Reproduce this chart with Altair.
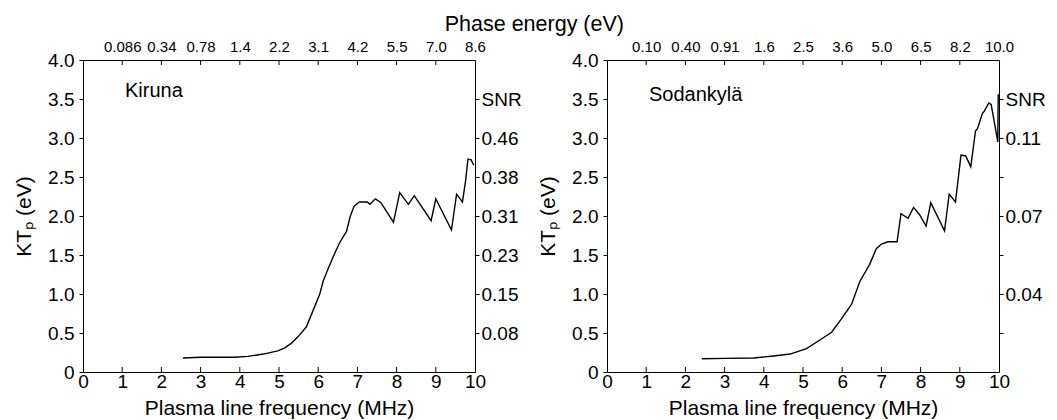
import altair as alt
import pandas as pd

# ---------------- data ----------------
kiruna_freq = [2.55, 3.0, 3.5, 3.87, 4.2, 4.6, 4.97, 5.15, 5.32, 5.5, 5.7, 5.87, 6.04, 6.13,
               6.25, 6.42, 6.55, 6.62, 6.72, 6.82, 6.92, 7.05, 7.25, 7.32, 7.46, 7.6, 7.92,
               8.08, 8.3, 8.45, 8.88, 9.0, 9.15, 9.4, 9.53, 9.68, 9.76, 9.82, 9.9, 9.97]
kiruna_temp = [0.18, 0.19, 0.19, 0.19, 0.20, 0.23, 0.27, 0.31, 0.37, 0.46, 0.58, 0.79, 1.0, 1.17,
               1.32, 1.52, 1.66, 1.72, 1.80, 2.0, 2.13, 2.18, 2.18, 2.15, 2.22, 2.17, 1.92,
               2.30, 2.15, 2.26, 1.94, 2.22, 2.07, 1.82, 2.28, 2.18, 2.45, 2.73, 2.72, 2.65]

sod_freq = [2.42, 3.0, 3.74, 4.25, 4.67, 5.09, 5.43, 5.73, 5.98, 6.24, 6.45, 6.7, 6.87, 7.0,
            7.17, 7.4, 7.5, 7.68, 7.82, 7.97, 8.14, 8.26, 8.61, 8.73, 8.89, 9.03, 9.15, 9.28,
            9.4, 9.45, 9.58, 9.62, 9.74, 9.8, 9.97, 9.98]
sod_temp = [0.17, 0.175, 0.18, 0.205, 0.23, 0.30, 0.41, 0.51, 0.68, 0.87, 1.16, 1.38, 1.58, 1.64,
            1.67, 1.67, 2.03, 1.97, 2.11, 2.02, 1.87, 2.17, 1.81, 2.28, 2.18, 2.78, 2.77, 2.63,
            3.09, 3.12, 3.32, 3.34, 3.45, 3.43, 2.95, 3.56]

freq_ticks = [0, 1, 2, 3, 4, 5, 6, 7, 8, 9, 10]
inner_ticks = [1, 2, 3, 4, 5, 6, 7, 8, 9]
energy_ticks = [1, 2, 3, 4, 5, 6, 7, 8, 9, 10]
kiruna_energy = ["0.086", "0.34", "0.78", "1.4", "2.2", "3.1", "4.2", "5.5", "7.0", "8.6"]
sod_energy = ["0.10", "0.40", "0.91", "1.6", "2.5", "3.6", "5.0", "6.5", "8.2", "10.0"]
temp_ticks = [0, 0.5, 1.0, 1.5, 2.0, 2.5, 3.0, 3.5, 4.0]
snr_ticks = [0.5, 1.0, 1.5, 2.0, 2.5, 3.0, 3.5]
kiruna_snr = ["0.08", "0.15", "0.23", "0.31", "0.38", "0.46", "SNR"]
sod_snr = ["", "0.04", "", "0.07", "", "0.11", "SNR"]

W, H = 392, 312
FONT = "Liberation Sans"


def arr_expr(labels, index_expr):
    return "[" + ",".join("'" + s + "'" for s in labels) + "][" + index_expr + "]"


def panel(freq, temp, name, name_x, name_y, energy_labels, snr_labels):
    df = pd.DataFrame({"f": freq, "t": temp})
    xs = alt.Scale(domain=[0, 10], nice=False, zero=False)
    ys = alt.Scale(domain=[0, 4], nice=False, zero=False)

    line = alt.Chart(df).mark_line(color="black", strokeWidth=1.4).encode(
        x=alt.X("f:Q", scale=xs, axis=alt.Axis(
            orient="bottom", values=freq_ticks, format="d", tickSize=0,
            labelPadding=0, title="Plasma line frequency (MHz)", titlePadding=6,
            titleFontSize=21, labelFlush=False, labelOverlap=False)),
        y=alt.Y("t:Q", scale=ys, axis=alt.Axis(
            orient="left", values=temp_ticks,
            labelExpr="datum.value == 0 ? '0' : format(datum.value, '.1f')",
            tickSize=4, labelPadding=5, title="KTₚ (eV)", titlePadding=13,
            titleFontSize=21, labelFlush=False, labelOverlap=False)),
    )
    ghost = alt.Chart(df).mark_line(opacity=0).encode(
        x=alt.X("f:Q", scale=xs, axis=alt.Axis(
            orient="top", values=energy_ticks,
            labelExpr=arr_expr(energy_labels, "datum.value - 1"),
            tickSize=0, labelPadding=6, labelFontSize=15, title="",
            labelFlush=False, labelOverlap=False)),
        y=alt.Y("t:Q", scale=ys, axis=alt.Axis(
            orient="right", values=snr_ticks,
            labelExpr=arr_expr(snr_labels, "round(datum.value * 2) - 1"),
            tickSize=4, labelPadding=2, title="",
            labelFlush=False, labelOverlap=False)),
    )
    tdf = pd.DataFrame({"v": inner_ticks})
    bt = alt.Chart(tdf).mark_rule(color="black", strokeWidth=1).encode(
        x=alt.X("v:Q", scale=xs, axis=None), y=alt.value(H), y2=alt.value(H - 5))
    tt = alt.Chart(tdf).mark_rule(color="black", strokeWidth=1).encode(
        x=alt.X("v:Q", scale=xs, axis=None), y=alt.value(0), y2=alt.value(5))
    ndf = pd.DataFrame({"x": [name_x], "y": [name_y], "label": [name]})
    txt = alt.Chart(ndf).mark_text(align="left", baseline="middle", fontSize=20,
                                   font=FONT, color="black").encode(
        x=alt.X("x:Q", scale=xs, axis=None), y=alt.Y("y:Q", scale=ys, axis=None),
        text="label:N")
    return alt.layer(line, ghost, bt, tt, txt).resolve_axis(
        x="independent", y="independent").properties(width=W, height=H)


left = panel(kiruna_freq, kiruna_temp, "Kiruna", 1.07, 3.6, kiruna_energy, kiruna_snr)
right = panel(sod_freq, sod_temp, "Sodankylä", 1.07, 3.55, sod_energy, sod_snr)

chart = alt.hconcat(left, right, spacing=132, bounds="flush").properties(
    title=alt.TitleParams(text="Phase energy (eV)", anchor="middle", fontSize=21.5,
                          fontWeight="normal", font=FONT, color="black", offset=3, dx=5),
    padding={"left": 13, "top": 14, "right": 8, "bottom": 2},
    background="white",
).configure_view(stroke="transparent").configure_axis(
    domainColor="black", tickColor="black", labelColor="black", titleColor="black",
    labelFont=FONT, titleFont=FONT, labelFontSize=19, titleFontSize=20,
    titleFontWeight="normal", grid=False, domainWidth=1, tickWidth=1,
)

chart.save("out.html", embed_options={"renderer": "svg", "actions": False})
